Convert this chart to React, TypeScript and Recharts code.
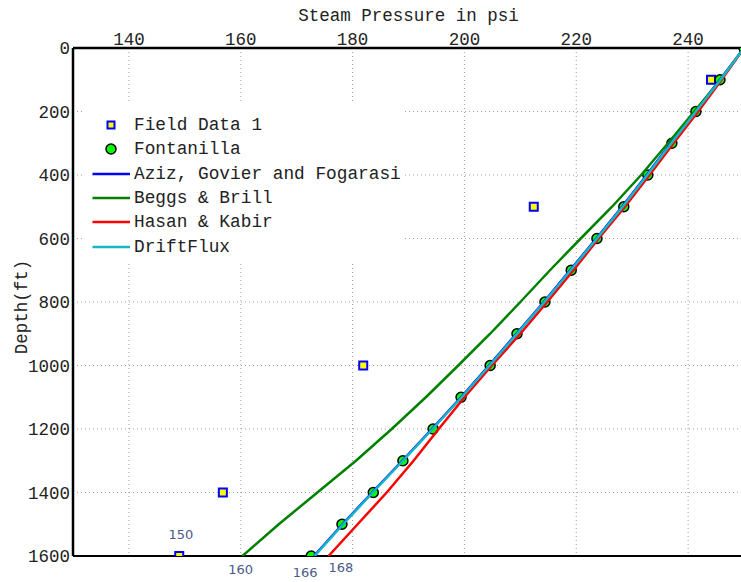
import React from "react";
import {
  ScatterChart,
  Scatter,
  XAxis,
  YAxis,
  CartesianGrid,
  Legend,
  ReferenceDot,
} from "recharts";

// depth stations (ft), one every 100 ft
const depths = [0, 100, 200, 300, 400, 500, 600, 700, 800, 900, 1000, 1100, 1200, 1300, 1400, 1500, 1600];

// measured field points
const fieldDepths = [0, 100, 500, 1000, 1400, 1600];
const fieldPressures = [250, 244.1, 212.4, 181.9, 156.8, 149];

// steam pressure (psi) at each depth station
const fontanilla = [250, 245.7, 241.4, 237.1, 232.8, 228.5, 223.7, 219.1, 214.4, 209.4, 204.6, 199.4, 194.4, 189.0, 183.7, 178.1, 172.6];
const aziz = [250, 245.7, 241.3, 236.9, 232.6, 228.2, 223.6, 218.9, 214.2, 209.3, 204.4, 199.4, 194.2, 188.9, 183.5, 178.2, 173.1];
const beggs = [250, 245.8, 241.1, 236.4, 231.6, 226.4, 220.8, 215.3, 210.0, 204.6, 198.9, 193.1, 187.0, 180.6, 173.7, 166.8, 160.3];
const hasan = [250, 246.0, 241.8, 237.4, 233.1, 228.7, 224.0, 219.5, 214.8, 210.0, 204.9, 200.0, 195.4, 190.9, 186.1, 180.9, 175.7];
const driftFlux = [250, 245.8, 241.4, 237.0, 232.7, 228.3, 223.7, 219.0, 214.3, 209.4, 204.5, 199.5, 194.3, 189.0, 183.6, 178.3, 173.2];

const xTicks = [140, 160, 180, 200, 220, 240];
const yTicks = [0, 200, 400, 600, 800, 1000, 1200, 1400, 1600];

// loose labels near the bottom of the plot
const noteLabels = ["150", "160", "166", "168"];
const notePressures = [149.3, 160, 171.5, 177.9];

const MONO = "'Liberation Mono', 'DejaVu Sans Mono', monospace";
const NOTE_COLOR = "#4b5a88";

const toPoints = (pressures: number[], ds: number[] = depths) =>
  pressures.map((p, i) => ({ p, d: ds[i] }));

const legendItems = [
  { name: "Field Data 1", kind: "square" },
  { name: "Fontanilla", kind: "circle" },
  { name: "Aziz, Govier and Fogarasi", kind: "line", color: "#0000ff" },
  { name: "Beggs & Brill", kind: "line", color: "#008000" },
  { name: "Hasan & Kabir", kind: "line", color: "#ff0000" },
  { name: "DriftFlux", kind: "line", color: "#17b5c8" },
];

function LegendBox() {
  return (
    <div
      style={{
        background: "#fff",
        width: 318,
        padding: "10px 0 5px 0",
        fontFamily: MONO,
        fontSize: 17.8,
        color: "#222",
      }}
    >
      {legendItems.map((item) => (
        <div
          key={item.name}
          style={{ display: "flex", alignItems: "center", height: 24.3 }}
        >
          <svg width={50} height={24} style={{ flex: "none" }}>
            {item.kind === "line" && (
              <line x1={8.5} y1={12} x2={46} y2={12} stroke={item.color} strokeWidth={2.5} />
            )}
            {item.kind === "square" && (
              <rect x={23.5} y={8.5} width={7} height={7} fill="#ffff00" stroke="#0000ff" strokeWidth={2} />
            )}
            {item.kind === "circle" && (
              <circle cx={27} cy={12} r={5} fill="#00ff00" stroke="#000" strokeWidth={1.5} />
            )}
          </svg>
          <span style={{ whiteSpace: "nowrap" }}>{item.name}</span>
        </div>
      ))}
    </div>
  );
}

const squareShape = (props: any) => (
  <rect
    x={props.cx - 4}
    y={props.cy - 4}
    width={8}
    height={8}
    fill="#ffff00"
    stroke="#0000ff"
    strokeWidth={2}
  />
);

const circleShape = (props: any) => (
  <circle cx={props.cx} cy={props.cy} r={5} fill="#00ff00" stroke="#000" strokeWidth={1.5} />
);

const noShape = () => <g />;

const noteOffsets = [-17, 9, 12, 7];

export default function App() {
  return (
    <div
      style={{
        position: "absolute",
        left: 0,
        top: 0,
        width: 741,
        height: 582,
        overflow: "hidden",
        background: "#fff",
      }}
    >
      <ScatterChart
        width={744}
        height={582}
        margin={{ top: 0, right: 0, bottom: 26, left: 0 }}
      >
        <CartesianGrid
          stroke="#a0a0a0"
          strokeDasharray="1 3"
          horizontalValues={yTicks}
          verticalValues={xTicks}
        />
        <XAxis
          xAxisId={0}
          orientation="top"
          type="number"
          dataKey="p"
          domain={[130, 250]}
          ticks={xTicks}
          height={48}
          tickLine={false}
          tickSize={0}
          tickMargin={3}
          axisLine={{ stroke: "#000", strokeWidth: 2.5 }}
          tick={{ fill: "#222", fontSize: 17.5, fontFamily: MONO }}
          label={{
            value: "Steam Pressure in psi",
            position: "insideTop",
            offset: 9,
            fill: "#222",
            fontSize: 17.5,
            fontFamily: MONO,
          }}
          allowDataOverflow
        />
        <XAxis
          xAxisId="topTicks"
          orientation="top"
          type="number"
          domain={[130, 250]}
          ticks={xTicks}
          mirror
          tick={false}
          tickSize={4}
          tickLine={{ stroke: "#000", strokeWidth: 1 }}
          axisLine={false}
          allowDataOverflow
        />
        <XAxis
          xAxisId="bottom"
          orientation="bottom"
          type="number"
          domain={[130, 250]}
          ticks={xTicks}
          mirror
          tick={false}
          tickSize={5}
          tickLine={{ stroke: "#000", strokeWidth: 1.2 }}
          axisLine={{ stroke: "#000", strokeWidth: 1.8 }}
          allowDataOverflow
        />
        <YAxis
          yAxisId={0}
          type="number"
          dataKey="d"
          reversed
          domain={[0, 1600]}
          ticks={yTicks}
          width={73}
          tickLine={false}
          tickSize={0}
          tickMargin={3}
          axisLine={{ stroke: "#000", strokeWidth: 2.5 }}
          tick={{ fill: "#222", fontSize: 17.5, fontFamily: MONO }}
          label={{
            content: (props: any) => {
              const vb = props.viewBox;
              const cx = vb.x + 22;
              const cy = vb.y + vb.height / 2 + 5;
              return (
                <text
                  x={cx}
                  y={cy}
                  transform={`rotate(-90, ${cx}, ${cy})`}
                  textAnchor="middle"
                  dominantBaseline="central"
                  fill="#222"
                  fontSize={17.5}
                  fontFamily={MONO}
                >
                  Depth(ft)
                </text>
              );
            },
          }}
          allowDataOverflow
        />
        <YAxis
          yAxisId="leftTicks"
          type="number"
          reversed
          domain={[0, 1600]}
          ticks={yTicks}
          mirror
          tick={false}
          tickSize={4}
          tickLine={{ stroke: "#000", strokeWidth: 1 }}
          axisLine={false}
          allowDataOverflow
        />
        <Legend
          layout="vertical"
          verticalAlign="middle"
          align="center"
          wrapperStyle={{ left: 84, top: 103, width: 318 }}
          content={() => <LegendBox />}
        />
        <Scatter
          name="Field Data 1"
          data={toPoints(fieldPressures, fieldDepths)}
          shape={squareShape}
          isAnimationActive={false}
        />
        <Scatter
          name="Fontanilla"
          data={toPoints(fontanilla)}
          shape={circleShape}
          isAnimationActive={false}
        />
        <Scatter
          name="Aziz, Govier and Fogarasi"
          data={toPoints(aziz)}
          line={{ stroke: "#0000ff", strokeWidth: 2.5 }}
          shape={noShape}
          isAnimationActive={false}
        />
        <Scatter
          name="Beggs & Brill"
          data={toPoints(beggs)}
          line={{ stroke: "#008000", strokeWidth: 2.5 }}
          shape={noShape}
          isAnimationActive={false}
        />
        <Scatter
          name="Hasan & Kabir"
          data={toPoints(hasan)}
          line={{ stroke: "#ff0000", strokeWidth: 2.5 }}
          shape={noShape}
          isAnimationActive={false}
        />
        <Scatter
          name="DriftFlux"
          data={toPoints(driftFlux)}
          line={{ stroke: "#17b5c8", strokeWidth: 2.5 }}
          shape={noShape}
          isAnimationActive={false}
        />
        {noteLabels.map((txt, i) => (
          <ReferenceDot
            key={txt}
            x={notePressures[i]}
            y={1600}
            r={0}
            ifOverflow="visible"
            stroke="none"
            fill="none"
            label={{
              value: txt,
              position: noteOffsets[i] < 0 ? "top" : "bottom",
              offset: Math.abs(noteOffsets[i]),
              fill: NOTE_COLOR,
              fontSize: 13,
              fontFamily: "'DejaVu Sans', sans-serif",
            }}
          />
        ))}
      </ScatterChart>
    </div>
  );
}
